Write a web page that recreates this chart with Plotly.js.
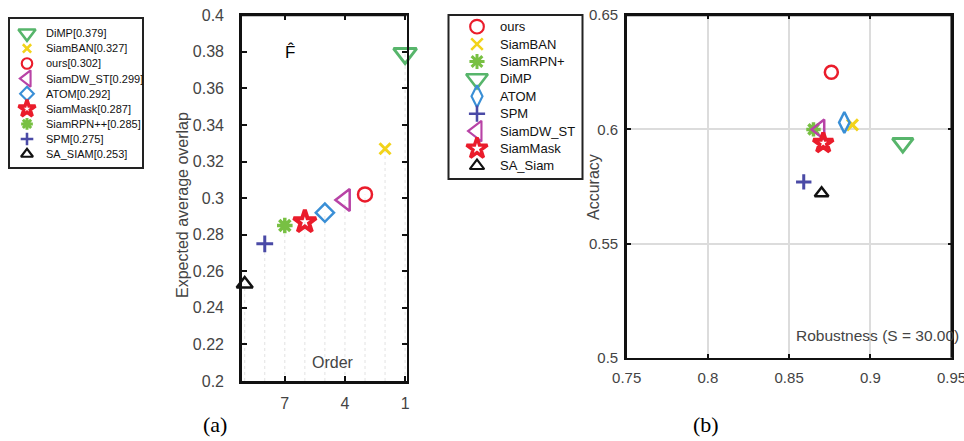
<!DOCTYPE html>
<html>
<head>
<meta charset="utf-8">
<script src="https://cdn.plot.ly/plotly-3.0.1.min.js"></script>
<style>html,body{margin:0;padding:0;background:#fff}</style>
</head>
<body>
<div id="chart" style="width:964px;height:441px"></div>
<script>
// (a) Expected average overlap, ranked
const eaoNames = ['DiMP', 'SiamBAN', 'ours', 'SiamDW_ST', 'ATOM', 'SiamMask', 'SiamRPN++', 'SPM', 'SA_SIAM'];
const eaoValues = [0.379, 0.327, 0.302, 0.299, 0.292, 0.287, 0.285, 0.275, 0.253];
const eaoOrder = [1, 2, 3, 4, 5, 6, 7, 8, 9];
const orderTicks = [7, 4, 1];
const eaoTicks = [0.2, 0.22, 0.24, 0.26, 0.28, 0.3, 0.32, 0.34, 0.36, 0.38, 0.4];

// (b) Accuracy-robustness plot
const arNames = ['ours', 'SiamBAN', 'SiamRPN+', 'DiMP', 'ATOM', 'SPM', 'SiamDW_ST', 'SiamMask', 'SA_Siam'];
const arRobustness = [0.876, 0.889, 0.865, 0.920, 0.884, 0.859, 0.869, 0.871, 0.870];
const arAccuracy = [0.625, 0.602, 0.600, 0.594, 0.603, 0.577, 0.600, 0.594, 0.572];
const robTicks = [0.75, 0.8, 0.85, 0.9, 0.95];
const accTicks = [0.5, 0.55, 0.6, 0.65];

// marker style per tracker: symbol, colour, size in (a), size in (b), line width
const styles = {
  'DiMP':      {sym: 'triangle-down-open', col: '#57b56b', a: 20, b: 18, w: 3},
  'SiamBAN':   {sym: 'x-thin-open',        col: '#f2d31a', a: 11, b: 11, w: 3},
  'ours':      {sym: 'circle-open',        col: '#ea1c2b', a: 14, b: 13, w: 2.5},
  'SiamDW_ST': {sym: 'triangle-left-open', col: '#b843a6', a: 19, b: 17, w: 2.5},
  'ATOM':      {sym: 'diamond-open',       col: '#3a8fd6', a: 14, b: 14, w: 2.5},
  'SiamMask':  {sym: 'star-open',          col: '#ea1c2b', a: 17, b: 15, w: 4},
  'SiamRPN++': {sym: 'asterisk-open',      col: '#78c043', a: 13, b: 12, w: 3.5},
  'SPM':       {sym: 'cross-thin-open',    col: '#4a4aa6', a: 12, b: 11, w: 3},
  'SA_SIAM':   {sym: 'triangle-up-open',   col: '#111111', a: 14, b: 12, w: 2.5}
};
styles['SiamRPN+'] = styles['SiamRPN++'];
styles['SA_Siam'] = styles['SA_SIAM'];
const bStyle = Object.assign({}, styles, {'ATOM': Object.assign({}, styles['ATOM'], {sym: 'diamond-tall-open', b: 15})});

const W = 964, H = 441;
const px = x => x / W;
const py = y => 1 - y / H;
const FONT = 'Liberation Sans, Arial, sans-serif';
const GREY = '#444444';

const traces = [];

// dotted drop lines under each ranked tracker
const dropX = [], dropY = [];
eaoOrder.forEach((o, i) => { dropX.push(o, o, null); dropY.push(0.2, eaoValues[i], null); });
traces.push({x: dropX, y: dropY, xaxis: 'x', yaxis: 'y', mode: 'lines', hoverinfo: 'skip',
  line: {color: '#e2e2e2', width: 1, dash: 'dot'}, showlegend: false});

eaoNames.forEach((n, i) => {
  const s = styles[n];
  traces.push({x: [eaoOrder[i]], y: [eaoValues[i]], xaxis: 'x', yaxis: 'y', mode: 'markers',
    name: n, cliponaxis: false, showlegend: false,
    marker: {symbol: s.sym, size: s.a, color: s.col, line: {color: s.col, width: s.w}}});
});

arNames.forEach((n, i) => {
  const s = bStyle[n];
  traces.push({x: [arRobustness[i]], y: [arAccuracy[i]], xaxis: 'x2', yaxis: 'y2', mode: 'markers',
    name: n, cliponaxis: false, showlegend: false,
    marker: {symbol: s.sym, size: s.b, color: s.col, line: {color: s.col, width: s.w}}});
});

// key boxes, each on its own pixel-unit axis pair
const annotations = [];
function keyBox(xa, ya, names, labels, st, sizeKey, scale, mx, tx, y0, step, fs) {
  names.forEach((n, i) => {
    const s = st[n];
    const y = y0 + i * step;
    traces.push({x: [mx], y: [y], xaxis: xa, yaxis: ya, mode: 'markers', showlegend: false,
      hoverinfo: 'skip', cliponaxis: false,
      marker: {symbol: s.sym, size: s[sizeKey] * scale, color: s.col, line: {color: s.col, width: s.w * 0.85}}});
    annotations.push({xref: xa, yref: ya, x: tx, y: y, text: labels[i], showarrow: false,
      xanchor: 'left', yanchor: 'middle', font: {family: FONT, size: fs, color: '#111'}});
  });
}
keyBox('x3', 'y3', eaoNames, eaoNames.map((n, i) => n + '[' + eaoValues[i].toFixed(3) + ']'),
  styles, 'a', 0.75, 27, 44, 33.3, 15.1, 11);
keyBox('x4', 'y4', arNames, arNames, bStyle, 'b', 1.05, 477, 498, 26.7, 17.4, 13);

function label(x, y, text, size, color, extra) {
  return Object.assign({xref: 'paper', yref: 'paper', x: px(x), y: py(y), text: text, showarrow: false,
    xanchor: 'center', yanchor: 'middle', font: {family: FONT, size: size, color: color}}, extra || {});
}
const SERIF = {family: 'Liberation Serif, Times New Roman, serif', size: 22, color: '#000'};
annotations.push(
  label(182, 205, 'Expected average overlap', 16, GREY, {textangle: -90}),
  label(333, 362, 'Order', 16, GREY),
  label(290, 52, 'F\u0302', 17, '#000'),
  label(594, 187, 'Accuracy', 16, GREY, {textangle: -90}),
  label(877, 335, 'Robustness (S = 30.00)', 15.5, GREY),
  label(215, 424, '(a)', 22, '#000', {font: SERIF}),
  label(706, 424, '(b)', 22, '#000', {font: SERIF})
);

// key frames, plus the top/right edges that close each plot box
const edge = (xr, yr, x0, y0, x1, y1) => ({type: 'line', xref: xr, yref: yr, x0: x0, y0: y0, x1: x1, y1: y1,
  line: {color: '#111', width: 2.5}});
const shapes = [
  {type: 'rect', xref: 'paper', yref: 'paper', x0: px(9), x1: px(143), y0: py(18), y1: py(168),
    line: {color: '#222', width: 2}},
  {type: 'rect', xref: 'paper', yref: 'paper', x0: px(448.5), x1: px(582.5), y0: py(15), y1: py(179),
    line: {color: '#222', width: 2}},
  edge('x domain', 'y domain', 0, 1, 1, 1),
  edge('x2 domain', 'y2 domain', 0, 1, 1, 1),
  edge('x2 domain', 'y2 domain', 1, 0, 1, 1)
];

const axisCommon = {showline: true, linecolor: '#111', linewidth: 2.5, mirror: 'ticks', ticks: 'inside',
  tickcolor: '#111', tickwidth: 2, zeroline: false, fixedrange: true};

function pixelAxes(x0, x1, y0, y1) {
  return [
    {domain: [px(x0), px(x1)], range: [x0, x1], visible: false, fixedrange: true},
    {domain: [py(y1), py(y0)], range: [y1, y0], visible: false, fixedrange: true}
  ];
}
const [kx3, ky3] = pixelAxes(0, 160, 5, 180);
const [kx4, ky4] = pixelAxes(440, 595, 5, 190);

const layout = {
  width: W, height: H, margin: {l: 0, r: 0, t: 0, b: 0},
  paper_bgcolor: '#fff', plot_bgcolor: 'rgba(0,0,0,0)', showlegend: false,
  font: {family: FONT},
  xaxis: Object.assign({}, axisCommon, {anchor: 'y', domain: [px(241.7), px(406.7)], range: [9.15, 0.92],
    tickvals: orderTicks, ticklen: 5, showgrid: false, ticklabelstandoff: 6,
    tickfont: {family: FONT, size: 16, color: GREY}}),
  yaxis: Object.assign({}, axisCommon, {anchor: 'x', domain: [py(381), py(15)], range: [0.2, 0.4001],
    tickvals: eaoTicks, ticklen: 5, showgrid: false, ticklabelstandoff: 12,
    tickfont: {family: FONT, size: 16, color: GREY}}),
  xaxis2: Object.assign({}, axisCommon, {anchor: 'y2', domain: [px(626.7), px(951.7)], range: [0.75, 0.9501],
    tickvals: robTicks, ticklen: 4, showgrid: true, gridcolor: '#dcdcdc', gridwidth: 2,
    ticklabeloverflow: 'allow', ticklabelstandoff: 5, tickfont: {family: FONT, size: 15, color: GREY}}),
  yaxis2: Object.assign({}, axisCommon, {anchor: 'x2', domain: [py(357.7), py(15)], range: [0.5, 0.6501],
    tickvals: accTicks, ticklen: 4, showgrid: true, gridcolor: '#dcdcdc', gridwidth: 2,
    ticklabelstandoff: 3, tickfont: {family: FONT, size: 15, color: GREY}}),
  xaxis3: Object.assign(kx3, {anchor: 'y3'}),
  yaxis3: Object.assign(ky3, {anchor: 'x3'}),
  xaxis4: Object.assign(kx4, {anchor: 'y4'}),
  yaxis4: Object.assign(ky4, {anchor: 'x4'}),
  annotations: annotations,
  shapes: shapes
};

Plotly.newPlot('chart', traces, layout, {staticPlot: true, displayModeBar: false});
</script>
</body>
</html>
